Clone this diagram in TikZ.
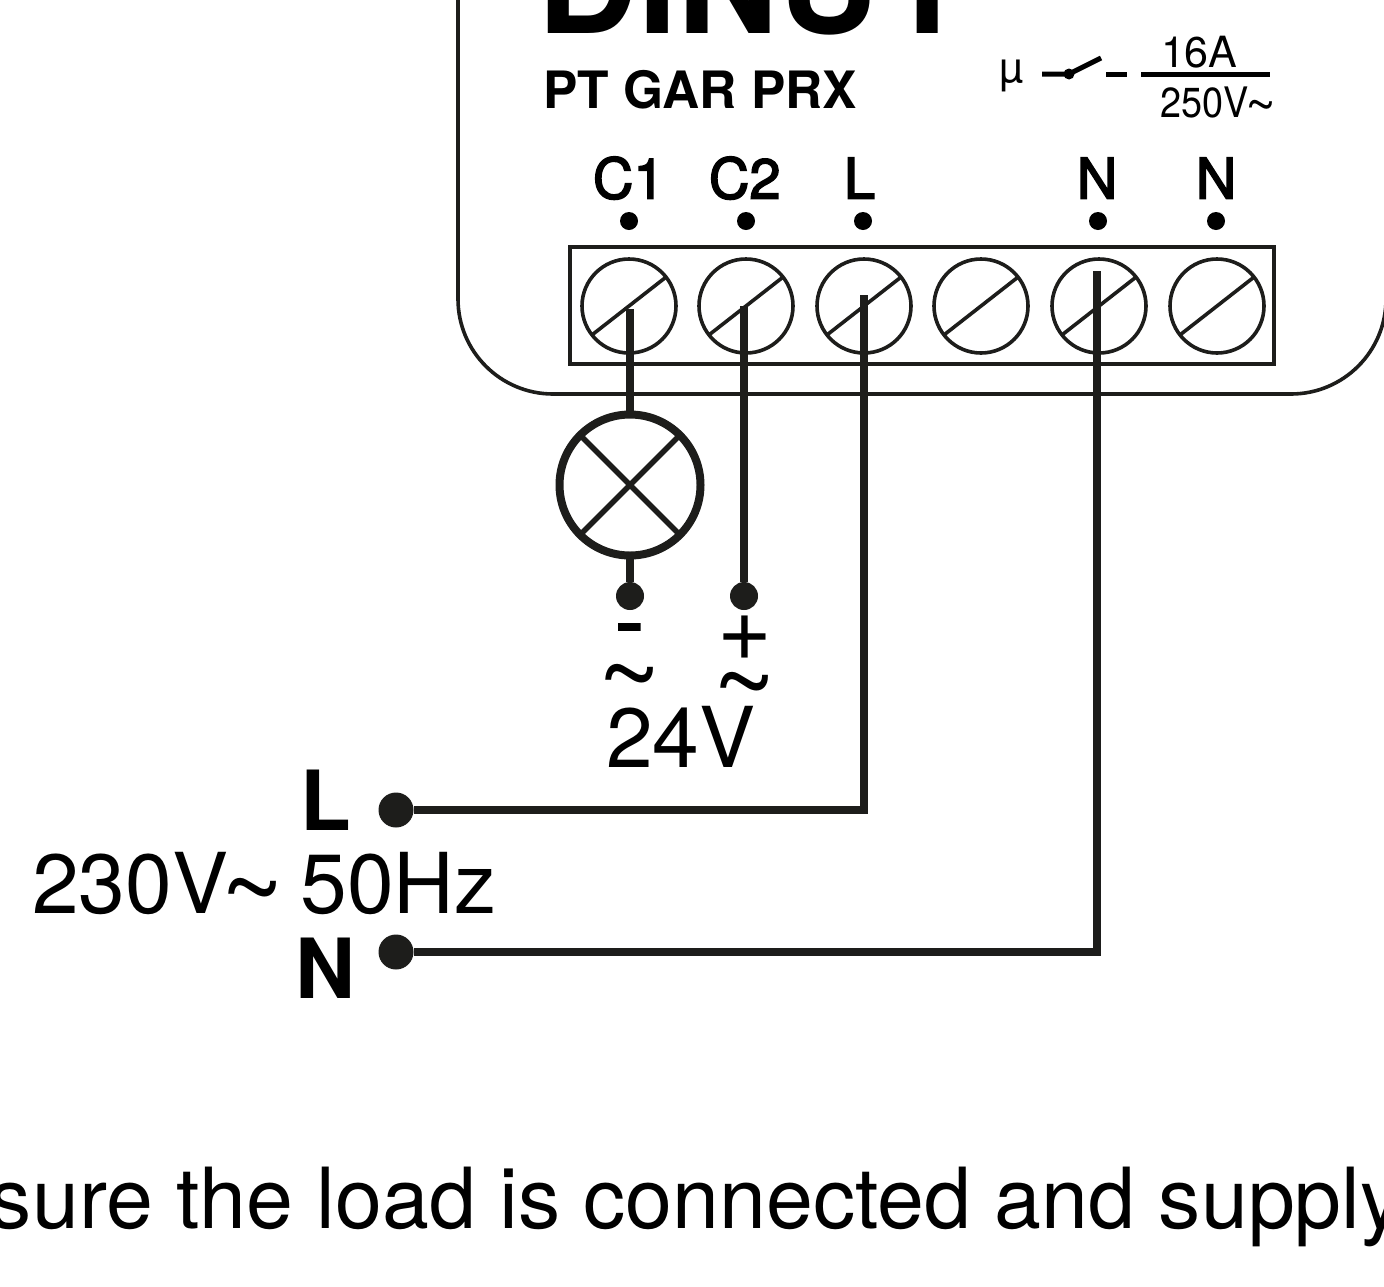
\documentclass[tikz,border=0pt]{standalone}
\usepackage{fontspec}
\setmainfont{TeX Gyre Heros}
\newcommand{\fs}[1]{\fontsize{#1pt}{#1pt}\selectfont}
\newcommand{\tld}[2]{\raisebox{#2}{\fontsize{#1pt}{#1pt}\selectfont\char"007E}}
\newcommand{\heavy}[1]{\special{pdf:code q 2 Tr 1.6 w}#1\special{pdf:code Q}}
\definecolor{wirecol}{HTML}{1D1D1B}
\tikzset{
  x=1pt,y=-1pt,
  txt/.style={inner sep=0pt,outer sep=0pt,anchor=base west,text=black},
  term/.style={circle,draw=wirecol,line width=3.6pt,minimum size=94pt,inner sep=0pt,outer sep=0pt},
  wire/.style={draw=wirecol,line width=7.6pt},
  thin line/.style={draw=wirecol,line width=3.6pt},
  tick/.style={circle,fill=black,minimum size=18pt,inner sep=0pt},
  wiredot/.style={circle,fill=wirecol,minimum size=28pt,inner sep=0pt},
  maindot/.style={circle,fill=wirecol,minimum size=35pt,inner sep=0pt},
  bar/.style={draw=black,line width=5pt}
}
\begin{document}
\begin{tikzpicture}
\useasboundingbox (0,0) rectangle (1384,1286);
\clip (0,0) rectangle (1384,1286);
% body
\draw[thin line] (458,-10) -- (458,299) arc[start angle=180,end angle=90,radius=95] -- (1291,394) arc[start angle=90,end angle=0,radius=95];
% terminal block
\node[draw=wirecol,line width=3.6pt,minimum width=704pt,minimum height=117pt,inner sep=0pt] (block) at (922,305.5) {};
\foreach \n/\x in {a/629,b/746,c/864,d/981,e/1099,f/1217}{
  \node[term] (t\n) at (\x,306) {};
  \draw[thin line] (t\n.218) -- (t\n.38);
}
% ticks
\node[tick] (ka) at (629,221) {};
\node[tick] (kb) at (746,221) {};
\node[tick] (kc) at (863,221) {};
\node[tick] (ke) at (1098,221) {};
\node[tick] (kf) at (1216,221) {};
% lamp
\node[circle,draw=wirecol,line width=8pt,minimum size=141pt,inner sep=0pt,outer sep=0pt] (lamp) at (630,485) {};
\draw[draw=wirecol,line width=5.5pt] (lamp.45) -- (lamp.225) (lamp.135) -- (lamp.315);
% terminals and supply
\node[wiredot] (minus) at (630,596) {};
\node[wiredot] (plus) at (744,596) {};
\node[maindot] (supL) at (396,810) {};
\node[maindot] (supN) at (396,952) {};
\coordinate (wa) at (630,309);
\coordinate (wb) at (744,306);
\coordinate (wc) at (864,295);
\coordinate (we) at (1097,271);
\draw[wire] (wa) -- (lamp.north);
\draw[wire] (lamp.south) -- (minus);
\draw[wire] (wb) -- (plus);
\draw[wire,line join=miter] (wc) |- (supL);
\draw[wire,line join=miter] (we) |- (supN);
% texts
\node[txt,font=\fs{140}\bfseries] (brand) at (537,33) {DINUY};
\node[txt,font=\fs{51.5}\bfseries] (model) at (543,108) {PT GAR PRX};
\node[txt,font=\fs{43}] (mu) at (999,82) {µ};
\node[txt,font=\fs{43}] (amp) at (1161,67) {16A};
\node[txt,font=\fs{42}] (volt) at (1160,117) {\scalebox{0.9}[1]{250V}\hspace{-2.5pt}\tld{53}{-6pt}};
\coordinate (s1) at (1042,74); \coordinate (s2) at (1069,74); \coordinate (s3) at (1101,58);
\draw[bar] (s1) -- (s2) -- (s3);
\fill (s2) circle (5.5);
\coordinate (d1) at (1106,74); \coordinate (d2) at (1127,74);
\draw[bar] (d1) -- (d2);
\coordinate (f1) at (1141,74); \coordinate (f2) at (1270,74);
\draw[bar] (f1) -- (f2);
\node[txt,font=\fs{56}] (lc1) at (593,198.5) {\heavy{C1}};
\node[txt,font=\fs{56}] (lc2) at (709,198.5) {\heavy{C2}};
\node[txt,font=\fs{56}] (ll) at (844,198.5) {\heavy{L}};
\node[txt,font=\fs{56}] (ln) at (1077,198.5) {\heavy{N}};
\node[txt,font=\fs{56}] (ln2) at (1196,198.5) {\heavy{N}};
\node[txt,font=\fs{87}] (minussign) at (615,651) {\heavy{-}};
\node[txt,font=\fs{94}] (plussign) at (717,660) {+};
\node[txt] (til1) at (597,712) {\tld{110}{0pt}};
\node[txt] (til2) at (712,720) {\tld{110}{0pt}};
\node[txt,font=\fs{84}] (v24) at (606,767) {24V};
\node[txt,font=\fs{83}\bfseries] (lL) at (300,830) {L};
\node[txt,font=\fs{84}] (mains) at (32,913) {230V\hspace{-8pt}\tld{110}{-13pt}\hspace{16pt}50Hz};
\node[txt,font=\fs{83}\bfseries] (lN) at (295,998) {N};
\node[txt,font=\fs{84.3}] (note) at (-10,1228) {sure the load is connected and supply};
\end{tikzpicture}
\end{document}
